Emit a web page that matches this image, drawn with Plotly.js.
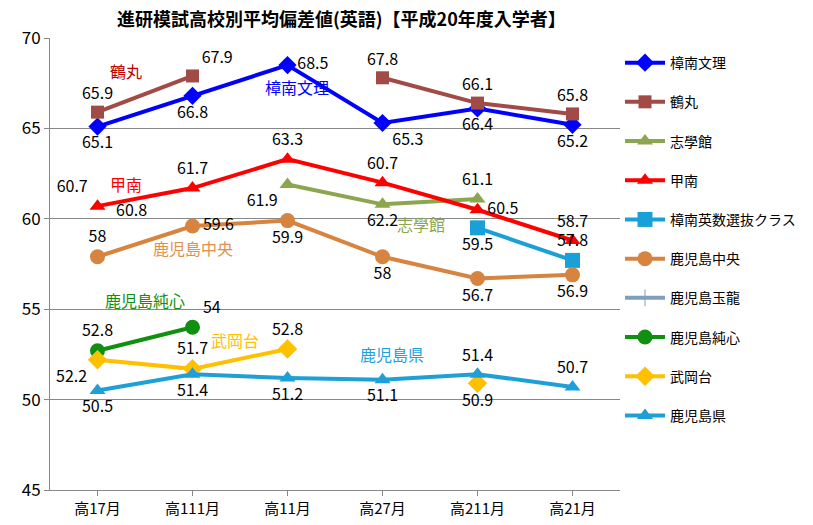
<!DOCTYPE html>
<html><head><meta charset="utf-8">
<script src="https://cdn.plot.ly/plotly-3.0.1.min.js"></script>
</head><body style="margin:0">
<div id="chart" style="width:813px;height:525px"></div>
<script>
var cats = ['高17月','高111月','高11月','高27月','高211月','高21月'];

var shonanBunri = [65.1,66.8,68.5,65.3,66.1,65.2];
var shonanBunriLbl = ['65.1','66.8','68.5','65.3','66.4','65.2'];
var tsurumaru = [65.9,67.9,null,67.8,66.4,65.8];
var tsurumaruLbl = ['65.9','67.9','','67.8','66.1','65.8'];
var shigakukan = [null,null,61.9,60.8,61.1,null];
var shigakukanLbl = ['','','61.9','62.2','61.1',''];
var konan = [60.7,61.7,63.3,62.0,60.5,58.8];
var konanLbl = ['60.7','61.7','63.3','60.7','60.5','58.7'];
var eisu = [null,null,null,null,59.5,57.7];
var eisuLbl = ['','','','','59.5','57.8'];
var chuo = [57.9,59.6,59.9,57.9,56.7,56.9];
var chuoLbl = ['58','59.6','59.9','58','56.7','56.9'];
var gyokuryu = [null,null,null,null,null,null];
var junshin = [52.7,54.0,null,null,null,null];
var junshinLbl = ['52.8','54','','','',''];
var takeokadai = [52.2,51.7,52.8,null,50.9,null];
var takeokadaiLbl = ['52.2','51.7','52.8','','50.9',''];
var kagoshimaken = [50.5,51.4,51.2,51.1,51.4,50.7];
var kagoshimakenLbl = ['50.5','51.4','51.2','51.1','51.4','50.7'];

var n = 0;
function tr(name, y, lbl, color, sym, size, pos) {
  n++;
  return {x: cats, y: y, name: name, type: 'scatter', mode: 'lines+markers+text',
    legendgroup: 'g' + n,
    text: lbl, textposition: pos, textfont: {size: 16, color: '#000'},
    line: {color: color, width: 4}, marker: {color: color, symbol: sym, size: size},
    cliponaxis: false, connectgaps: false};
}
var data = [
  tr('樟南文理', shonanBunri, shonanBunriLbl, '#0000FF', 'diamond', 14,
     ['bottom center','bottom center','middle right','bottom right','bottom center','bottom center']),
  tr('鶴丸', tsurumaru, tsurumaruLbl, '#A24A45', 'square', 13,
     ['top center','top right','top center','top center','top center','top center']),
  tr('志學館', shigakukan, shigakukanLbl, '#8CA650', 'triangle-up', 14,
     ['top center','top center','bottom left','bottom center','top center','top center']),
  tr('甲南', konan, konanLbl, '#FF0000', 'triangle-up', 14,
     ['top left','top center','top center','top center','middle right','top center']),
  tr('樟南英数選抜クラス', eisu, eisuLbl, '#1AA0D8', 'square', 15,
     ['top center','top center','top center','top center','bottom center','top center']),
  tr('鹿児島中央', chuo, chuoLbl, '#D6843F', 'circle', 15,
     ['top center','middle right','bottom center','bottom center','bottom center','bottom center']),
  tr('鹿児島玉龍', gyokuryu, [], '#7F9FBF', 'cross-thin-open', 12, 'top center'),
  tr('鹿児島純心', junshin, junshinLbl, '#109010', 'circle', 15,
     ['top center','top right','top center','top center','top center','top center']),
  tr('武岡台', takeokadai, takeokadaiLbl, '#FFC000', 'diamond', 15,
     ['bottom left','top center','top center','top center','bottom center','top center']),
  tr('鹿児島県', kagoshimaken, kagoshimakenLbl, '#1E9FD8', 'triangle-up', 14,
     ['bottom center','bottom center','bottom center','bottom center','top center','top center'])
];

var names = [
  {t:'鶴丸', x:0.3, y:68.2, c:'#C00000'},
  {t:'樟南文理', x:2.1, y:67.3, c:'#0000FF'},
  {t:'甲南', x:0.3, y:61.9, c:'#FF0000'},
  {t:'志學館', x:3.4, y:59.7, c:'#8CA650'},
  {t:'鹿児島中央', x:1.0, y:58.4, c:'#E0904A'},
  {t:'鹿児島純心', x:0.5, y:55.5, c:'#109010'},
  {t:'武岡台', x:1.45, y:53.3, c:'#FFC000'},
  {t:'鹿児島県', x:3.1, y:52.5, c:'#1EA0E0'}
];
var ann = names.map(function(a){
  return {x: a.x, y: a.y, xref:'x', yref:'y', text: a.t, showarrow:false,
    font:{size:16, color:a.c, family:'Noto Sans CJK JP'}};
});
ann.push({x:0.36, y:60.55, xref:'x', yref:'y', text:'60.8', showarrow:false, font:{size:16,color:'#000'}});

var layout = {
  width: 813, height: 525,
  margin: {l: 50, r: 180, t: 38, b: 35},
  font: {family: 'Noto Sans CJK JP, sans-serif', color: '#000'},
  title: {text: '<b>進研模試高校別平均偏差値(英語)【平成20年度入学者】</b>', x: 0.42, y: 0.975,
    font: {size: 18, color: '#000'}},
  xaxis: {type: 'category', range: [-0.5, 5.5], showline: true, linecolor: '#888',
    ticks: 'outside', tickcolor: '#888', tickfont: {size: 15}, showgrid: false},
  yaxis: {range: [45, 70], dtick: 5, showline: true, linecolor: '#888', gridcolor: '#888',
    ticks: 'outside', tickcolor: '#888', tickfont: {size: 17}, zeroline: false},
  legend: {x: 1.0, y: 0.98, yanchor: 'top', font: {size: 14}, tracegroupgap: 18,
    itemwidth: 40},
  showlegend: true,
  annotations: ann,
  plot_bgcolor: '#fff', paper_bgcolor: '#fff'
};
Plotly.newPlot('chart', data, layout, {displayModeBar: false});
</script>
</body></html>
